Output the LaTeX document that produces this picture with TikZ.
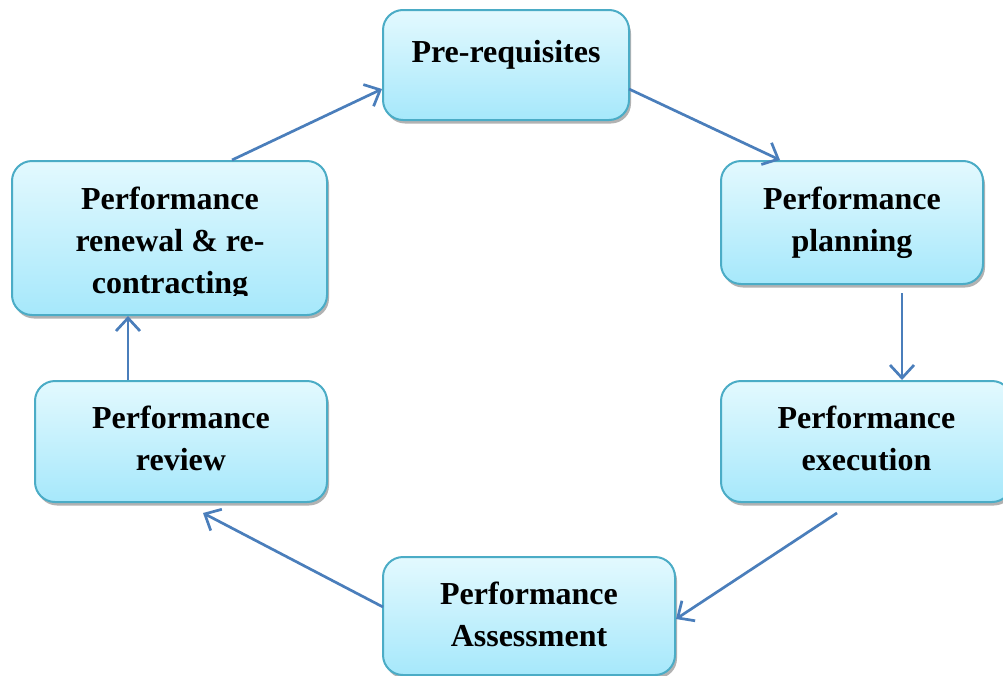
\documentclass[tikz,border=0pt]{standalone}
\usepackage{fontspec}
\setmainfont{Liberation Serif}
\usetikzlibrary{arrows.meta,shadows}
\definecolor{boxtop}{HTML}{E3F9FE}
\definecolor{boxbot}{HTML}{A6E8FB}
\definecolor{boxline}{HTML}{4BACC6}
\definecolor{arrowcol}{HTML}{4A7EBB}
\begin{document}
\begin{tikzpicture}[x=1pt,y=-1pt,
  box/.style={draw=boxline, line width=2pt, rounded corners=20pt,
    top color=boxtop, bottom color=boxbot,
    drop shadow={shadow xshift=2pt, shadow yshift=-3.5pt, fill=black, opacity=0.3},
    inner sep=0pt},
  txt/.style={align=center, inner sep=0pt, anchor=north,
    font=\fontsize{32}{42}\selectfont\bfseries},
  conn/.style={draw=arrowcol, line width=2.7pt,
    -{Straight Barb[length=13pt,width=24pt]}}]
\useasboundingbox (0,0) rectangle (1003,675);
% boxes
\node[box, minimum width=246pt, minimum height=110pt] (pre) at (506,65) {};
\node[box, minimum width=262pt, minimum height=123pt] (plan) at (852,222.5) {};
\node[box, minimum width=291pt, minimum height=121pt] (exec) at (866.5,441.5) {};
\node[box, minimum width=292pt, minimum height=118pt] (assess) at (529,616) {};
\node[box, minimum width=292pt, minimum height=121pt] (review) at (181,441.5) {};
\node[box, minimum width=315pt, minimum height=154pt] (renew) at (169.5,238) {};
% texts
\node[txt] (tpre) at (506,40) {Pre-requisites};
\node[txt] (tplan) at (852,187) {Performance\\planning};
\node[txt] (texec) at (866.5,406) {Performance\\execution};
\node[txt] (tassess) at (529,582) {Performance\\Assessment};
\node[txt] (treview) at (181,406) {Performance\\review};
\begin{scope}
\clip (0,0) rectangle (1003,295);
\node[txt] (trenew) at (170,187) {Performance\\renewal \& re-\\contracting};
\end{scope}
% connector end points
\coordinate (a1s) at (232,160);
\coordinate (a1e) at (382,89);
\coordinate (a2s) at (629,89);
\coordinate (a2e) at (780,160);
\coordinate (a3s) at (902,293);
\coordinate (a3e) at (902,380);
\coordinate (a4s) at (837,513);
\coordinate (a4e) at (676,619);
\coordinate (a5s) at (383,607);
\coordinate (a5e) at (203,513);
\coordinate (a6s) at (128,380);
\coordinate (a6e) at (128,316);
\draw[conn] (a1s) -- (a1e);
\draw[conn] (a2s) -- (a2e);
\draw[conn] (a3s) -- (a3e);
\draw[conn] (a4s) -- (a4e);
\draw[conn] (a5s) -- (a5e);
\draw[conn] (a6s) -- (a6e);
\end{tikzpicture}
\end{document}
